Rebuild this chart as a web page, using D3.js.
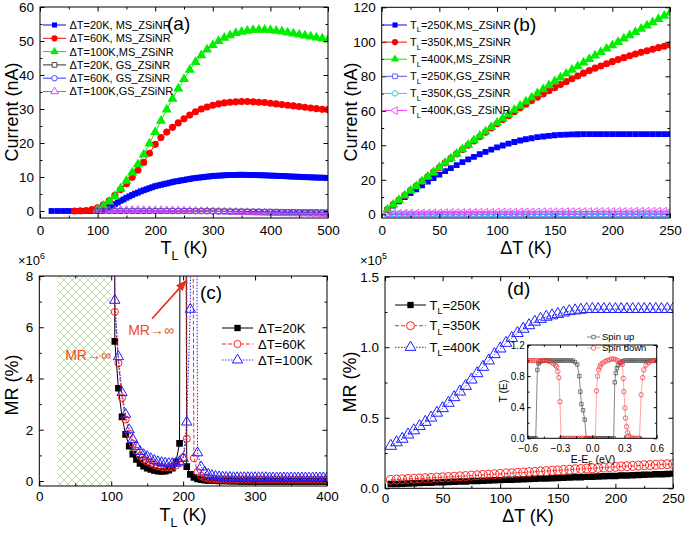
<!DOCTYPE html>
<html><head><meta charset="utf-8">
<script src="https://cdn.jsdelivr.net/npm/d3@7"></script>
<style>body{margin:0;background:#fff}</style>
</head><body>
<svg id="chart" width="685" height="533" style="background:#fff"></svg>
<script>
// ---------- Panel (a): Current vs T_L ----------
const tA20 = [20,30,40,50,60,70,80,90,100,105,110,115,120,125,130,135,140,145,150,155,160,165,170,175,180,185,190,195,200,205,210,215,220,225,230,235,240,245,250,255,260,265,270,275,280,285,290,295,300,305,310,315,320,325,330,335,340,345,350,355,360,365,370,375,380,385,390,395,400,405,410,415,420,425,430,435,440,445,450,455,460,465,470,475,480,485,490,495,500];
const curA_MS20 = [0,0,0,0,0,0,0,0.02,0.05,
 0.2,0.45,0.8,1.2,1.6,2.0,2.5,3.0,3.4,3.9,
 4.3,4.7,5.1,5.4,5.8,6.1,6.4,6.7,7.0,7.3,
 7.5,7.7,7.9,8.1,8.3,8.5,8.7,8.8,9.0,9.1,
 9.3,9.4,9.6,9.7,9.8,9.9,10.0,10.1,10.2,10.3,
 10.35,10.4,10.45,10.5,10.55,10.6,10.6,10.6,10.65,10.65,
 10.65,10.6,10.6,10.6,10.55,10.55,10.5,10.5,10.45,10.4,
 10.4,10.35,10.3,10.3,10.25,10.2,10.15,10.1,10.1,10.05,
 10.0,9.95,9.95,9.9,9.85,9.85,9.8,9.8,9.75,9.7];
const tA60 = [60,70,80,90,100,110,120,130,140,150,160,170,180,190,200,210,220,230,240,250,260,270,280,290,300,310,320,330,340,350,360,370,380,390,400,410,420,430,440,450,460,470,480,490,500];
const curA_MS60 = [0,0.05,0.15,0.4,0.9,1.8,3.0,4.6,6.3,8.0,
 9.9,12.0,14.3,17.0,19.6,21.6,23.2,24.6,25.9,27.1,
 28.2,29.2,30.0,30.6,31.1,31.5,31.8,32.0,32.1,32.2,
 32.2,32.1,32.0,31.9,31.7,31.5,31.3,31.1,30.9,30.7,
 30.5,30.3,30.1,29.9,29.8];
const tA100 = [100,110,120,130,140,150,160,170,180,190,200,210,220,230,240,250,260,270,280,290,300,310,320,330,340,350,360,370,380,390,400,410,420,430,440,450,460,470,480,490,500];
const curA_MS100 = [0.5,1.5,2.8,4.3,6.6,8.9,11.3,13.7,16.6,19.8,
 23.2,26.5,29.8,33.0,36.0,38.8,41.5,43.8,45.8,47.5,
 48.8,50.0,50.9,51.7,52.3,52.7,53.0,53.2,53.3,53.3,
 53.2,53.0,52.8,52.5,52.2,51.9,51.6,51.3,51.0,50.7,50.4];
const curA_GS20 = [0,0,0,0,0,0,0,0,0,0, 0,0,0,0,0,0,0,0,0,0, 0,-0.05,-0.05,-0.1,-0.1,-0.1,-0.15,-0.15,-0.15,-0.2, -0.2,-0.2,-0.25,-0.25,-0.25,-0.3,-0.3,-0.3,-0.3,-0.35,-0.35];
const curA_GS60 = [0.1,0.1,0.1,0.1,0.1,0.1,0.1,0.1,0.1,0.1, 0.05,0.05,0.05,0,0,0,0,-0.05,-0.05,-0.1, -0.1,-0.15,-0.15,-0.2,-0.2,-0.25,-0.25,-0.3,-0.3,-0.35, -0.35,-0.4,-0.4,-0.45,-0.45,-0.5,-0.5,-0.55,-0.55,-0.6,-0.6];
const curA_GS100 = [0.25,0.25,0.25,0.25,0.25,0.25,0.25,0.25,0.25,0.25, 0.2,0.2,0.15,0.15,0.1,0.1,0.05,0,0,-0.05, -0.1,-0.15,-0.2,-0.25,-0.3,-0.35,-0.4,-0.45,-0.5,-0.55, -0.6,-0.65,-0.7,-0.72,-0.75,-0.78,-0.8,-0.83,-0.86,-0.9,-0.95];
const legendA = ["\u0394T=20K,  MS_ZSiNR","\u0394T=60K,  MS_ZSiNR","\u0394T=100K,MS_ZSiNR","\u0394T=20K,  GS_ZSiNR","\u0394T=60K,  GS_ZSiNR","\u0394T=100K,GS_ZSiNR"];

// ---------- Panel (b): Current vs dT ----------
const dT = [5,10,15,20,25,30,35,40,45,50,55,60,65,70,75,80,85,90,95,100,105,110,115,120,125,130,135,140,145,150,155,160,165,170,175,180,185,190,195,200,205,210,215,220,225,230,235,240,245,250];
const curB_MS250 = [2.5,5.0,7.5,10.0,12.3,14.5,16.8,19.0,21.0,23.0,
 25.0,26.8,28.5,30.2,31.8,33.3,34.8,36.2,37.5,38.8,
 39.9,41.0,41.9,42.8,43.5,44.1,44.7,45.1,45.5,45.8,
 46.0,46.2,46.3,46.4,46.5,46.5,46.5,46.5,46.5,46.5,
 46.5,46.5,46.5,46.5,46.5,46.5,46.5,46.5,46.5,46.5];
const curB_MS350 = [2.8,5.6,8.3,11.0,13.7,16.4,19.1,21.8,24.5,27.1,
 29.8,32.4,35.0,37.5,40.0,42.5,45.0,47.5,50.0,52.5,
 54.9,57.2,59.5,61.7,63.8,65.9,67.9,69.8,71.6,73.4,
 75.2,76.9,78.6,80.2,81.8,83.3,84.7,86.0,87.3,88.5,
 89.7,90.8,91.9,92.9,93.9,94.8,95.7,96.6,97.4,98.2];
const curB_MS400 = [2.8,5.6,8.3,11.0,13.7,16.4,19.1,21.8,24.5,27.2,
 29.9,32.5,35.1,37.7,40.3,42.9,45.5,48.0,50.5,53.0,
 55.5,58.0,60.5,62.9,65.3,67.7,70.1,72.5,74.8,77.1,
 79.3,81.5,83.7,85.8,87.9,90.0,92.0,94.0,96.0,97.9,
 99.9,101.8,103.7,105.6,107.5,109.4,111.3,113.2,115.1,117.0];
const curB_GS250 = [0,0,0,0,0,0,0,0,0,0, 0,0,0,0,0,0,0,0,0,0, 0,0,0,0,0,0,0,0,0,0, 0,0,0,0,0,0,0,0,0,0, 0,0,0,0,0,0,0,0,0,0];
const curB_GS350 = [0.2,0.2,0.2,0.2,0.2,0.2,0.2,0.2,0.2,0.2, 0.2,0.2,0.2,0.2,0.2,0.2,0.2,0.2,0.2,0.2, 0.3,0.3,0.3,0.3,0.3,0.3,0.3,0.3,0.3,0.3, 0.3,0.3,0.3,0.3,0.3,0.3,0.3,0.3,0.3,0.3, 0.4,0.4,0.4,0.4,0.4,0.4,0.4,0.4,0.4,0.4];
const curB_GS400 = [0.5,0.5,0.6,0.6,0.7,0.7,0.8,0.8,0.9,0.9, 1.0,1.0,1.0,1.1,1.1,1.1,1.2,1.2,1.2,1.3, 1.3,1.3,1.3,1.4,1.4,1.4,1.4,1.5,1.5,1.5, 1.5,1.5,1.6,1.6,1.6,1.6,1.6,1.7,1.7,1.7, 1.7,1.7,1.7,1.8,1.8,1.8,1.8,1.8,1.8,1.8];
const legendB = ["=250K,MS_ZSiNR","=350K,MS_ZSiNR","=400K,MS_ZSiNR","=250K,GS_ZSiNR","=350K,GS_ZSiNR","=400K,GS_ZSiNR"];

// ---------- Panel (c): MR (x10^6 %) vs T_L ----------
const tC20 = [101,105,110,115,120,125,130,135,140,145,150,155,160,165,170,175,180,185,190,195,199.5,205,210,215,220,225,230,235,240,245,250,255,260,265,270,275,280,285,290,295,300,305,310,315,320,325,330,335,340,345,350,355,360,365,370,375,380,385,390,395,400];
const mrC20 = [60,5.45,3.62,2.5,1.82,1.36,1.05,0.84,0.69,0.58,0.5,0.45,0.41,0.38,0.37,0.38,0.42,0.5,0.75,1.47,60,
 0.56,0.26,0.14,0.08,0.05,0.03,0.02,0.01,0.01,0,
 0,0,-0.01,-0.01,-0.01,-0.02,-0.02,-0.02,-0.02,-0.02,
 -0.02,-0.02,-0.02,-0.02,-0.02,-0.02,-0.02,-0.02,-0.02,-0.02,
 -0.02,-0.02,-0.02,-0.02,-0.02,-0.02,-0.02,-0.02,-0.02,-0.02];
const tC60 = [102,105,110,115,120,125,130,135,140,145,150,155,160,165,170,175,180,185,190,195,200,205,207,215,220,225,230,235,240,245,250,255,260,265,270,275,280,285,290,295,300,305,310,315,320,325,330,335,340,345,350,355,360,365,370,375,380,385,390,395,400];
const mrC60 = [60,6.6,4.6,3.25,2.4,1.85,1.45,1.18,0.98,0.84,0.76,0.69,0.63,0.58,0.55,0.53,0.53,0.55,0.6,0.7,0.92,1.65,60,
 0.89,0.35,0.2,0.13,0.1,0.08,0.07,0.06,0.06,0.05,
 0.05,0.05,0.05,0.05,0.05,0.05,0.05,0.05,0.05,0.05,
 0.05,0.05,0.05,0.05,0.05,0.05,0.05,0.05,0.05,0.05,
 0.05,0.05,0.05,0.05,0.05,0.05,0.05,0.05];
const tC100 = [102.5,105,110,115,120,125,130,135,140,145,150,155,160,165,170,175,180,185,190,195,200,205,210,213.5,220,225,230,235,240,245,250,255,260,265,270,275,280,285,290,295,300,305,310,315,320,325,330,335,340,345,350,355,360,365,370,375,380,385,390,395,400];
const mrC100 = [60,7.05,4.85,3.45,2.6,2.0,1.62,1.35,1.15,1.03,0.95,0.87,0.8,0.75,0.72,0.7,0.68,0.68,0.7,0.75,0.88,2.3,6.7,60,
 1.1,0.55,0.35,0.26,0.21,0.18,0.16,0.15,0.14,0.14,
 0.13,0.13,0.13,0.13,0.13,0.13,0.13,0.13,0.13,0.13,
 0.12,0.12,0.12,0.12,0.12,0.12,0.12,0.12,0.12,0.12,
 0.12,0.12,0.12,0.12,0.12,0.12,0.12];
const legendC = ["\u0394T=20K","\u0394T=60K","\u0394T=100K"];

// ---------- Panel (d): MR (x10^5 %) vs dT ----------
const mrD250 = [0.030,0.031,0.033,0.034,0.036,0.037,0.039,0.040,0.042,0.043,
 0.045,0.046,0.048,0.049,0.051,0.052,0.054,0.055,0.057,0.058,
 0.060,0.061,0.063,0.064,0.066,0.067,0.069,0.070,0.072,0.073,
 0.075,0.076,0.078,0.079,0.081,0.082,0.084,0.085,0.087,0.088,
 0.090,0.091,0.093,0.094,0.096,0.097,0.099,0.100,0.102,0.104];
const mrD350 = [0.060,0.062,0.064,0.066,0.068,0.070,0.072,0.074,0.076,0.078,
 0.080,0.082,0.085,0.087,0.090,0.092,0.095,0.097,0.100,0.102,
 0.105,0.107,0.110,0.112,0.115,0.117,0.120,0.122,0.125,0.127,
 0.130,0.132,0.135,0.137,0.140,0.142,0.145,0.147,0.150,0.152,
 0.155,0.157,0.159,0.161,0.163,0.165,0.167,0.169,0.171,0.172];
const mrD400 = [0.30,0.325,0.35,0.38,0.41,0.44,0.47,0.50,0.535,0.567,
 0.605,0.645,0.685,0.725,0.77,0.815,0.86,0.905,0.95,0.99,
 1.03,1.065,1.10,1.13,1.155,1.18,1.20,1.215,1.225,1.235,
 1.245,1.255,1.26,1.265,1.27,1.27,1.27,1.27,1.27,1.27,
 1.27,1.27,1.27,1.27,1.27,1.27,1.27,1.27,1.27,1.27];
const legendD = ["=250K","=350K","=400K"];

// ---------- Inset of (d): T(E) ----------
const eUp = [-0.6,-0.58,-0.56,-0.54,-0.525,-0.51,-0.5,-0.49,-0.48,-0.46,-0.44,-0.42,-0.4,-0.38,-0.36,-0.34,-0.32,-0.3,-0.28,-0.26,-0.24,-0.22,-0.2,-0.18,-0.16,-0.14,-0.12,-0.11,-0.1,-0.085,-0.07,-0.055,-0.04,-0.02,0,0.02,0.04,0.06,0.08,0.1,0.12,0.14,0.16,0.18,0.2,0.21,0.22,0.23,0.24,0.26,0.28,0.3,0.32,0.34,0.36,0.38,0.4,0.42,0.44,0.46,0.48,0.5,0.52,0.54,0.56,0.58,0.6];
const tUp = [0,0,0,0,0,0.88,0.96,0.98,0.99,1,1,1,1,1,1,1,1,1,1,1,1,1,1,1,0.98,0.95,0.8,0.6,0.44,0.36,0.24,0,0,0,0,0,0,0,0,0,0,0,0,0,0,0.72,0.84,0.9,0.94,0.97,0.99,1,1,1,1,1,1,1,1,1,1,1,1,1,1,1,1];
const eDown = [-0.6,-0.58,-0.56,-0.54,-0.52,-0.5,-0.48,-0.46,-0.44,-0.42,-0.4,-0.38,-0.36,-0.34,-0.33,-0.32,-0.31,-0.3,-0.29,-0.28,-0.26,-0.24,-0.22,-0.2,-0.18,-0.16,-0.14,-0.12,-0.1,-0.08,-0.06,-0.04,-0.02,0,0.02,0.03,0.04,0.05,0.06,0.07,0.08,0.1,0.12,0.14,0.16,0.18,0.2,0.22,0.24,0.26,0.27,0.28,0.29,0.295,0.305,0.31,0.32,0.33,0.34,0.36,0.38,0.4,0.42,0.44,0.455,0.47,0.48,0.5,0.52,0.54,0.56,0.58,0.6];
const tDown = [1,1,1,1,1,1,1,1,1,1,0.99,0.98,0.96,0.94,0.92,0.86,0.78,0.47,0,0,0,0,0,0,0,0,0,0,0,0,0,0,0,0,0,0,0.61,0.8,0.88,0.92,0.95,0.97,0.99,1.0,1.01,1.02,1.02,1.01,1.0,0.98,0.97,0.95,0.77,0.6,0.39,0.26,0.15,0.07,0.03,0.01,0,0,0,0,0.56,0.78,0.88,0.94,0.97,0.99,1,1,1];
const legendInset = ["Spin up","Spin down"];

// ---------- drawing ----------
const FONT = "'Liberation Sans', Arial, Helvetica, sans-serif";
const svg = d3.select("#chart");
const defs = svg.append("defs");
const sym = (type, size) => d3.symbol().type(type).size(size)();
const SQ = d3.symbolSquare, CI = d3.symbolCircle, TR = d3.symbolTriangle;

function rich(t, parts, fs){
  let cur = 0;
  parts.forEach(p => {
    const [str, k] = Array.isArray(p) ? p : [p];
    const target = k === "sub" ? fs*0.32 : k === "sup" ? -fs*0.45 : 0;
    const ts = t.append("tspan").text(str);
    if (target !== cur) ts.attr("dy", target - cur);
    if (k) ts.attr("font-size", fs*0.68);
    cur = target;
  });
  return t;
}
function label(x, y, parts, fs, opt={}){
  const t = svg.append("text").attr("x", x).attr("y", y).attr("font-size", fs)
    .attr("font-family", FONT).attr("fill", opt.fill || "#000")
    .attr("text-anchor", opt.anchor || "start");
  if (opt.rotate) t.attr("transform", `rotate(${opt.rotate},${x},${y})`);
  return rich(t, parts, fs);
}

function makePanel(o){
  const x = d3.scaleLinear().domain(o.xd).range([o.l, o.r]);
  const y = d3.scaleLinear().domain(o.yd).range([o.b, o.t]);
  const g = svg.append("g");
  if (o.bg) g.append("rect").attr("x",o.l).attr("y",o.t).attr("width",o.r-o.l).attr("height",o.b-o.t).attr("fill",o.bg);
  defs.append("clipPath").attr("id","clip-"+o.id).append("rect")
    .attr("x",o.l).attr("y",o.t).attr("width",o.r-o.l).attr("height",o.b-o.t);
  const extra = g.append("g");
  const data = g.append("g").attr("clip-path", `url(#clip-${o.id})`);
  const none = () => "";
  const add = (axis, tr, vals, len, fmt, pad, fs) => {
    const s = g.append("g").attr("transform", tr)
      .call(axis.tickValues(vals).tickSize(-len).tickSizeOuter(0).tickPadding(pad).tickFormat(fmt));
    s.select(".domain").remove();
    s.attr("font-size", fs).attr("font-family", FONT);
    s.selectAll("text").attr("fill", "#000");
    s.selectAll("line").attr("stroke", "#000").attr("stroke-width", 1);
  };
  const ML = o.ml || 4.5, NL = o.nl || 2.5;
  const fx = o.fsx || o.fs, fy = o.fsy || o.fs;
  add(d3.axisBottom(x), `translate(0,${o.b})`, o.xM, ML, o.xf, o.padx, fx);
  add(d3.axisBottom(x), `translate(0,${o.b})`, o.xm, NL, none, o.padx, fx);
  add(d3.axisTop(x), `translate(0,${o.t})`, o.xM, ML, none, o.padx, fx);
  add(d3.axisTop(x), `translate(0,${o.t})`, o.xm, NL, none, o.padx, fx);
  add(d3.axisLeft(y), `translate(${o.l},0)`, o.yM, ML, o.yf, o.pady, fy);
  add(d3.axisLeft(y), `translate(${o.l},0)`, o.ym, NL, none, o.pady, fy);
  add(d3.axisRight(y), `translate(${o.r},0)`, o.yM, ML, none, o.pady, fy);
  add(d3.axisRight(y), `translate(${o.r},0)`, o.ym, NL, none, o.pady, fy);
  g.append("rect").attr("x",o.l).attr("y",o.t).attr("width",o.r-o.l).attr("height",o.b-o.t)
    .attr("fill","none").attr("stroke","#000").attr("stroke-width",1);
  return {x, y, g, data, extra};
}

function drawSeries(P, xs, ys, s){
  const pts = xs.map((v,i) => [v, ys[i]]);
  if (s.line !== false){
    P.data.append("path").attr("d", d3.line().x(d=>P.x(d[0])).y(d=>P.y(d[1]))(pts))
      .attr("fill","none").attr("stroke", s.lc || s.color).attr("stroke-width", s.lw || 1)
      .attr("stroke-dasharray", s.dash || null);
  }
  const p = sym(s.sym, s.size);
  P.data.append("g").selectAll("path").data(pts).join("path")
    .attr("d", p)
    .attr("transform", d => `translate(${P.x(d[0])},${P.y(d[1])})` + (s.rot ? ` rotate(${s.rot})` : ""))
    .attr("fill", s.open ? "none" : s.color)
    .attr("stroke", s.open ? s.color : "none")
    .attr("stroke-width", s.sw || 1);
}

function legendEntry(x1, x2, y, s, parts, tx, fs){
  svg.append("line").attr("x1",x1).attr("x2",x2).attr("y1",y).attr("y2",y)
    .attr("stroke", s.lc || s.color).attr("stroke-width", s.lw || 1).attr("stroke-dasharray", s.dash || null);
  svg.append("path").attr("d", sym(s.sym, s.lsize || s.size))
    .attr("transform", `translate(${(x1+x2)/2},${y})` + (s.rot ? ` rotate(${s.rot})` : ""))
    .attr("fill", s.open ? "#fff" : s.color).attr("stroke", s.open ? s.color : "none").attr("stroke-width", s.sw || 1);
  label(tx, y + fs*0.36, parts, fs);
}

// ===== Panel (a) =====
const PA = makePanel({id:"a", l:40, r:328, t:7, b:218, xd:[0,500], yd:[-2.06,60],
  xM:[0,100,200,300,400,500], xm:[50,150,250,350,450], yM:[0,10,20,30,40,50,60], ym:[5,15,25,35,45,55],
  xf:d3.format("d"), yf:d3.format("d"), fs:13.5, padx:7, pady:6});
const stA = [
  {color:"#0000ff", sym:SQ, size:34, lsize:26},
  {color:"#ff0000", sym:CI, size:40, lsize:30},
  {color:"#00ee00", sym:TR, size:44, lsize:30},
  {color:"#333333", sym:SQ, size:22, open:true, sw:0.9},
  {color:"#3030ff", sym:CI, size:24, open:true, sw:0.9},
  {color:"#cc44ee", sym:TR, size:26, open:true, sw:0.9}
];
drawSeries(PA, tA20, curA_MS20, stA[0]);
drawSeries(PA, tA60, curA_MS60, stA[1]);
drawSeries(PA, tA100, curA_MS100, stA[2]);
drawSeries(PA, tA100, curA_GS20, stA[3]);
drawSeries(PA, tA100, curA_GS60, stA[4]);
drawSeries(PA, tA100, curA_GS100, stA[5]);
legendA.forEach((t,i) => legendEntry(43, 66, 25 + 13.3*i, stA[i], [t], 69.5, 11));
label(167, 30, ["(a)"], 19);
label(184, 254, ["T", ["L","sub"], " (K)"], 18, {anchor:"middle"});
label(18, 112, ["Current (nA)"], 18, {anchor:"middle", rotate:-90});

// ===== Panel (b) =====
const PB = makePanel({id:"b", l:381.7, r:670, t:7.3, b:218, xd:[0,250], yd:[-2.15,120],
  xM:[0,50,100,150,200,250], xm:[25,75,125,175,225], yM:[0,20,40,60,80,100,120], ym:[10,30,50,70,90,110],
  xf:d3.format("d"), yf:d3.format("d"), fs:13.5, padx:7, pady:6});
const stB = [
  {color:"#0000ff", sym:SQ, size:34, lsize:26},
  {color:"#ff0000", sym:CI, size:40, lsize:30},
  {color:"#00ee00", sym:TR, size:44, lsize:30},
  {color:"#5050ff", sym:SQ, size:22, open:true, sw:0.9},
  {color:"#20c8ff", sym:CI, size:24, open:true, sw:0.9},
  {color:"#ee44ee", sym:TR, size:26, open:true, sw:0.9, rot:-90}
];
drawSeries(PB, dT, curB_MS250, stB[0]);
drawSeries(PB, dT, curB_MS350, stB[1]);
drawSeries(PB, dT, curB_MS400, stB[2]);
drawSeries(PB, dT, curB_GS250, stB[3]);
drawSeries(PB, dT, curB_GS350, stB[4]);
drawSeries(PB, dT, curB_GS400, stB[5]);
legendB.forEach((t,i) => legendEntry(383, 407, 25 + 17.1*i, stB[i], ["T", ["L","sub"], t], 410, 11));
label(513, 31, ["(b)"], 19);
label(526, 254, ["\u0394T (K)"], 18, {anchor:"middle"});
label(357, 112, ["Current (nA)"], 18, {anchor:"middle", rotate:-90});

// ===== Panel (c) =====
const PC = makePanel({id:"c", l:39.3, r:327, t:276, b:486, xd:[0,400], yd:[-0.195,8],
  xM:[0,100,200,300,400], xm:[50,150,250,350], yM:[0,2,4,6,8], ym:[1,3,5,7],
  xf:d3.format("d"), yf:d3.format("d"), fs:13.5, padx:5, pady:6});
const pat = defs.append("pattern").attr("id","hatch").attr("width",8).attr("height",8)
  .attr("patternUnits","userSpaceOnUse");
pat.append("path").attr("d","M0,0L8,8M8,0L0,8").attr("stroke","#a9d296").attr("stroke-width",0.8);
PC.extra.append("rect").attr("x",PC.x(25)).attr("y",276).attr("width",PC.x(100)-PC.x(25)).attr("height",210)
  .attr("fill","url(#hatch)");
const stC = [
  {color:"#000000", sym:SQ, size:44, lsize:40},
  {color:"#ff2020", sym:CI, size:40, open:true, dash:"4,2", lsize:40},
  {color:"#2020ff", sym:TR, size:46, open:true, dash:"1.5,1.5", lsize:46}
];
drawSeries(PC, tC20, mrC20, stC[0]);
drawSeries(PC, tC60, mrC60, stC[1]);
drawSeries(PC, tC100, mrC100, stC[2]);
legendC.forEach((t,i) => legendEntry(222, 253, 328 + 16*i, stC[i], [t], 258, 13));
label(200, 299, ["(c)"], 19);
label(183, 521, ["T", ["L","sub"], " (K)"], 18, {anchor:"middle"});
label(18, 385, ["MR (%)"], 18, {anchor:"middle", rotate:-90});
label(18, 265, ["\u00d710", ["6","sup"]], 13);
// annotations
defs.append("marker").attr("id","arr").attr("viewBox","0 0 10 10").attr("refX",9).attr("refY",5)
  .attr("markerWidth",7).attr("markerHeight",7).attr("orient","auto")
  .append("path").attr("d","M0,1L10,5L0,9z").attr("fill","#ee2a1a");
svg.append("line").attr("x1",PC.x(156.7)).attr("y1",PC.y(6.33)).attr("x2",PC.x(204)).attr("y2",PC.y(7.81))
  .attr("stroke","#ee2a1a").attr("stroke-width",1.6).attr("marker-end","url(#arr)");
label(PC.x(123.5), PC.y(5.7), ["MR\u2192\u221e"], 14, {fill:"#f04a20"});
label(PC.x(36), PC.y(4.74), ["MR\u2192\u221e"], 14, {fill:"#f04a20"});

// ===== Panel (d) =====
const PD = makePanel({id:"d", l:385, r:673, t:276.7, b:488.3, xd:[0,250], yd:[0,1.5],
  xM:[0,50,100,150,200,250], xm:[25,75,125,175,225], yM:[0,0.5,1,1.5], ym:[0.25,0.75,1.25],
  xf:d3.format("d"), yf:d3.format(".1f"), fs:13.5, padx:5, pady:6});
const stD = [
  {color:"#000000", sym:SQ, size:42, lsize:40},
  {color:"#ff2020", sym:CI, size:62, open:true, dash:"4,2", lsize:50},
  {color:"#2020ff", sym:TR, size:58, open:true, dash:"1.5,1.5", lsize:50}
];
drawSeries(PD, dT, mrD250, stD[0]);
drawSeries(PD, dT, mrD350, stD[1]);
drawSeries(PD, dT, mrD400, stD[2]);
legendD.forEach((t,i) => legendEntry(395, 426, [305, 325.7, 347.3][i], stD[i], ["T", ["L","sub"], t], 429.5, 13));
label(507, 295, ["(d)"], 19);
label(528, 522, ["\u0394T (K)"], 18, {anchor:"middle"});
label(356, 382, ["MR (%)"], 18, {anchor:"middle", rotate:-90});
label(360, 265, ["\u00d710", ["5","sup"]], 13);

// ===== Inset =====
const PI = makePanel({id:"i", l:527.7, r:656.7, t:345, b:438.3, xd:[-0.6,0.6], yd:[0,1.2], bg:"#fff",
  xM:[-0.6,-0.3,0,0.3,0.6], xm:[-0.45,-0.15,0.15,0.45], yM:[0,0.4,0.8,1.2], ym:[0.2,0.6,1.0],
  xf:d3.format(".1f"), yf:d3.format(".1f"), fs:10, padx:6.5, pady:3, ml:3, nl:1.8});
const stI = [
  {color:"#444444", lc:"#666666", sym:SQ, size:12, open:true, sw:0.7, lw:0.8},
  {color:"#ee3030", lc:"#ff8a8a", sym:CI, size:16, open:true, sw:0.7, lw:0.8}
];
drawSeries(PI, eUp, tUp, stI[0]);
drawSeries(PI, eDown, tDown, stI[1]);
legendInset.forEach((t,i) => legendEntry(587, 600, 337 + 11*i, stI[i], [t], 602, 9.5));
label(593, 463, ["E-E", ["F","sub"], " (eV)"], 10.5, {anchor:"middle"});
label(507, 391, ["T (E)"], 10.5, {anchor:"middle", rotate:-90});
</script>
</body></html>
